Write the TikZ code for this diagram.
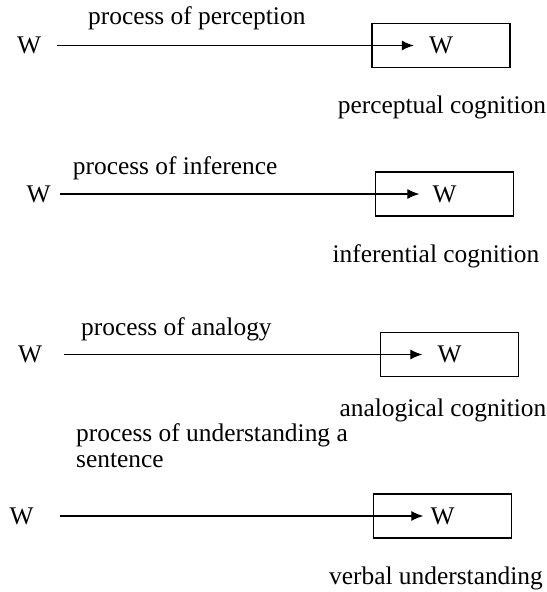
\documentclass[tikz,border=0pt]{standalone}
\usepackage{fontspec}
\setmainfont{Liberation Serif}
\usetikzlibrary{arrows.meta,positioning,calc}
\newcommand{\labelfont}{\fontsize{25.4bp}{26bp}\selectfont}
\tikzset{
  word/.style={inner xsep=0pt, inner ysep=0pt, font=\labelfont},
  cogbox/.style={draw, line width=1.2bp, minimum width=138bp, minimum height=44bp},
  edge/.style={-{Latex[length=12bp,width=10bp]}, line width=1.1bp},
  proclabel/.style={anchor=base west, align=left, inner sep=0pt, font=\labelfont},
  coglabel/.style={anchor=base, inner sep=0pt, font=\labelfont}
}
\begin{document}
\begin{tikzpicture}[x=1bp,y=-1bp]
\useasboundingbox (0,0) rectangle (547,592);
% perception
\node[cogbox] (box1) at (441,45.5) {};
\node[word] (dst1) at (box1) {W};
\node[word] (src1) at (29,45.5) {W};
\draw[edge, shorten <=16bp, shorten >=15bp] (src1.east) -- (dst1.west);
\node[proclabel] (proc1) at (88,25) {process of perception};
\node[coglabel] (cog1) at (442,114) {perceptual cognition};
% inference
\node[cogbox] (box2) at (444.5,194) {};
\node[word] (dst2) at (box2) {W};
\node[word] (src2) at (38.5,194) {W};
\draw[edge, shorten <=9bp, shorten >=13bp] (src2.east) -- (dst2.west);
\node[proclabel] (proc2) at (72.7,175) {process of inference};
\node[coglabel] (cog2) at (436,262) {inferential cognition};
% analogy
\node[cogbox] (box3) at (449.5,354.5) {};
\node[word] (dst3) at (box3) {W};
\node[word] (src3) at (30,354.5) {W};
\draw[edge, shorten <=22bp, shorten >=15bp] (src3.east) -- (dst3.west);
\node[proclabel] (proc3) at (81,335) {process of analogy};
\node[coglabel] (cog3) at (443,416) {analogical cognition};
% understanding a sentence
\node[cogbox] (box4) at (442.5,516) {};
\node[word] (dst4) at (box4) {W};
\node[word] (src4) at (21.5,516) {W};
\draw[edge, shorten <=26bp, shorten >=7bp] (src4.east) -- (dst4.west);
\node[proclabel] (proc4) at (76,467) {process of understanding a\\sentence};
\node[coglabel] (cog4) at (436,584) {verbal understanding};
\end{tikzpicture}
\end{document}
